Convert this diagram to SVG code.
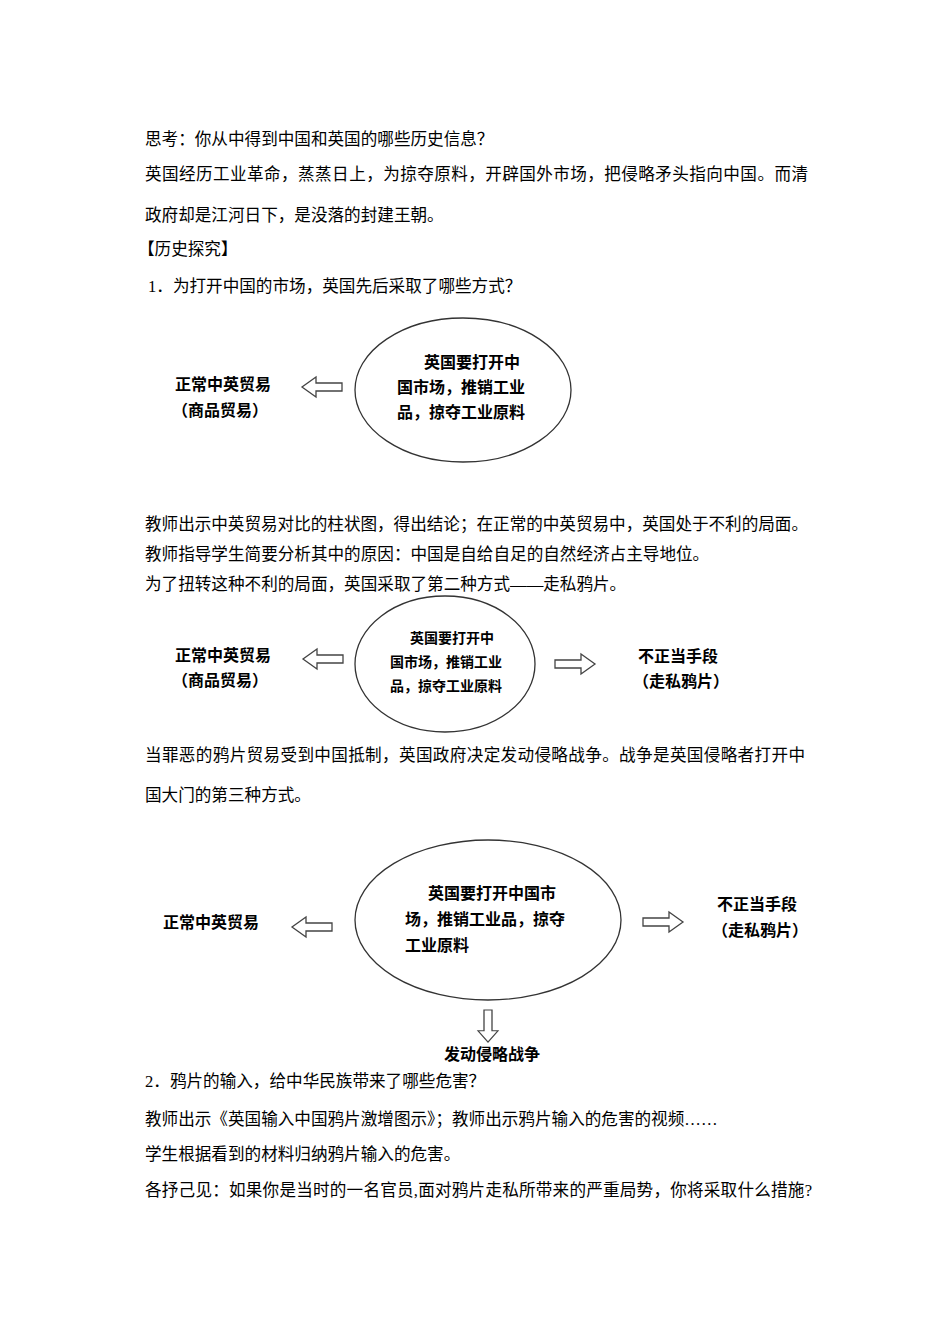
<svg xmlns="http://www.w3.org/2000/svg" xmlns:xlink="http://www.w3.org/1999/xlink" width="950" height="1344" viewBox="0 0 950 1344">
<style>
.b{font-family:"Liberation Serif","Noto Sans CJK SC",serif;font-size:16.6px;fill:#000}
.d{font-family:"Noto Sans CJK SC",sans-serif;font-size:16px;font-weight:bold;fill:#000}
.e{fill:#fff;stroke:#333;stroke-width:1.3}
.a{fill:#fff;stroke:#444;stroke-width:1.3}
</style>
<defs><polygon id="ar" class="a" points="0,-4 26,-4 26,-10 40,0 26,10 26,4 0,4"/></defs>
<rect width="950" height="1344" fill="#fff"/>
<g id="text">
<text class="b" x="145" y="145">思考：你从中得到中国和英国的哪些历史信息？</text>
<text class="b" x="145" y="180" textLength="663" lengthAdjust="spacing">英国经历工业革命，蒸蒸日上，为掠夺原料，开辟国外市场，把侵略矛头指向中国。而清</text>
<text class="b" x="145" y="221">政府却是江河日下，是没落的封建王朝。</text>
<text class="b" x="138" y="255">【历史探究】</text>
<text class="b" x="148" y="292">1．为打开中国的市场，英国先后采取了哪些方式？</text>
<text class="b" x="145" y="530" textLength="663" lengthAdjust="spacing">教师出示中英贸易对比的柱状图，得出结论；在正常的中英贸易中，英国处于不利的局面。</text>
<text class="b" x="145" y="560">教师指导学生简要分析其中的原因：中国是自给自足的自然经济占主导地位。</text>
<text class="b" x="145" y="590">为了扭转这种不利的局面，英国采取了第二种方式——走私鸦片。</text>
<text class="b" x="145" y="761" textLength="660" lengthAdjust="spacing">当罪恶的鸦片贸易受到中国抵制，英国政府决定发动侵略战争。战争是英国侵略者打开中</text>
<text class="b" x="145" y="801">国大门的第三种方式。</text>
<text class="b" x="145" y="1087">2．鸦片的输入，给中华民族带来了哪些危害？</text>
<text class="b" x="145" y="1125">教师出示《英国输入中国鸦片激增图示》；教师出示鸦片输入的危害的视频……</text>
<text class="b" x="145" y="1160">学生根据看到的材料归纳鸦片输入的危害。</text>
<text class="b" x="145" y="1196" textLength="667" lengthAdjust="spacing">各抒己见：如果你是当时的一名官员,面对鸦片走私所带来的严重局势，你将采取什么措施?</text>
</g>
<g id="node1-center"><ellipse class="e" cx="463" cy="390" rx="108" ry="72"/>
<text class="d" x="424" y="368">英国要打开中</text><text class="d" x="397" y="393">国市场，推销工业</text><text class="d" x="397" y="418">品，掠夺工业原料</text></g>
<g id="node1-left"><text class="d" x="175" y="390">正常中英贸易</text><text class="d" x="172" y="416">（商品贸易）</text></g>
<g id="node2-center"><ellipse class="e" cx="445" cy="664" rx="90" ry="68"/>
<text class="d" x="410" y="643" style="font-size:14px">英国要打开中</text><text class="d" x="390" y="667" style="font-size:14px">国市场，推销工业</text><text class="d" x="390" y="691" style="font-size:14px">品，掠夺工业原料</text></g>
<g id="node2-left"><text class="d" x="175" y="661">正常中英贸易</text><text class="d" x="172" y="686">（商品贸易）</text></g>
<g id="node2-right"><text class="d" x="638" y="662">不正当手段</text><text class="d" x="633" y="687">（走私鸦片）</text></g>
<g id="node3-center"><ellipse class="e" cx="488" cy="920" rx="133" ry="80"/>
<text class="d" x="428" y="899">英国要打开中国市</text><text class="d" x="405" y="925">场，推销工业品，掠夺</text><text class="d" x="405" y="951">工业原料</text></g>
<g id="node3-left"><text class="d" x="163" y="928">正常中英贸易</text></g>
<g id="node3-right"><text class="d" x="717" y="910">不正当手段</text><text class="d" x="712" y="936">（走私鸦片）</text></g>
<g id="node3-bottom"><text class="d" x="444" y="1060">发动侵略战争</text></g>
<g id="connectors">
<use xlink:href="#ar" transform="translate(342,387) rotate(180)"/>
<use xlink:href="#ar" transform="translate(343,659) rotate(180)"/>
<use xlink:href="#ar" transform="translate(555,664)"/>
<use xlink:href="#ar" transform="translate(332,927) rotate(180)"/>
<use xlink:href="#ar" transform="translate(643,922)"/>
<use xlink:href="#ar" transform="translate(488,1010) rotate(90) scale(0.8,1)"/>
</g>
</svg>
